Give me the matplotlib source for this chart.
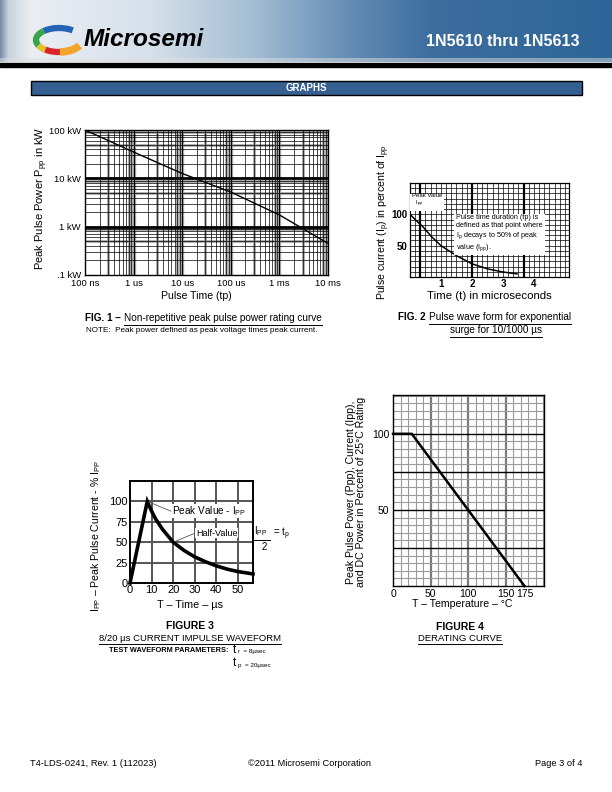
import numpy as np
import matplotlib.pyplot as plt
from matplotlib.patches import Rectangle, Arc

plt.rcParams['font.family'] = ['Liberation Sans', 'DejaVu Sans']
plt.rcParams['mathtext.fontset'] = 'custom'
plt.rcParams['mathtext.rm'] = 'Liberation Sans'
plt.rcParams['mathtext.it'] = 'Liberation Sans:italic'
plt.rcParams['mathtext.bf'] = 'Liberation Sans:bold'

# ---- data ----
# fig 1 : peak pulse power vs pulse time
f1_time = [1e-7, 1e-6, 1e-5, 1e-4, 1e-3, 1e-2]
f1_power = [100, 35, 12.6, 5.2, 1.75, 0.45]
f1_xticks = [1e-7, 1e-6, 1e-5, 1e-4, 1e-3, 1e-2]
f1_xlabels = ['100 ns', '1 us', '10 us', '100 us', '1 ms', '10 ms']
f1_yticks = [0.1, 1, 10, 100]
f1_ylabels = ['.1 kW', '1 kW', '10 kW', '100 kW']

# fig 2 : exponential pulse
f2_t = [0, 0.2, 0.42, 0.7, 1.0, 1.5, 2.0, 2.5, 3.0, 3.45]
f2_i = [100, 90, 80, 64, 50, 34, 21, 13, 8, 5]
f2_xticks = [1, 2, 3, 4]
f2_yticks = [50, 100]

# fig 3 : 8/20 us waveform
f3_t = [0, 8, 10, 12, 15, 20, 25, 30, 35, 40, 45, 50, 55, 57]
f3_i = [0, 100, 88, 78, 66, 50, 40, 32, 26, 21, 17, 14, 12, 11]
f3_xticks = [0, 10, 20, 30, 40, 50]
f3_yticks = [0, 25, 50, 75, 100]

# fig 4 : derating
f4_temp = [0, 25, 175]
f4_pct = [100, 100, 0]
f4_xticks = [0, 50, 100, 150, 175]
f4_yticks = [50, 100]

W, H = 612, 792
fig = plt.figure(figsize=(6.12, 7.92), dpi=100)
bg = fig.add_axes([0, 0, 1, 1])
bg.set_xlim(0, W)
bg.set_ylim(H, 0)
bg.axis('off')


def box(l, t, r, b):
    ax = fig.add_axes([l / W, 1 - b / H, (r - l) / W, (b - t) / H])
    ax.patch.set_visible(False)
    return ax


def uline(t, off=0.0):
    bb = t.get_window_extent(fig.canvas.get_renderer())
    y = H - bb.y0 + off
    bg.plot([bb.x0, bb.x1], [y, y], color='k', lw=0.7)


def caption(x, y, bold, rest, size):
    t1 = bg.text(x, y, bold, fontsize=size, fontweight='bold', va='baseline')
    bb = t1.get_window_extent(fig.canvas.get_renderer())
    t2 = bg.text(bb.x1 + 3, y, rest, fontsize=size, va='baseline')
    uline(t2, 1.5)


# ---- header ----
stops_x = [0, 8, 30, 150, 250, 350, 430, 612]
stops_c = [(120, 140, 165), (200, 210, 222), (234, 238, 243), (214, 224, 234),
           (165, 190, 212), (100, 140, 180), (60, 110, 158), (46, 101, 152)]
xs = np.arange(W)
grad = np.stack([np.interp(xs, stops_x, [c[k] for c in stops_c]) for k in range(3)], axis=-1) / 255
img = np.repeat(grad[None, :, :], 62, axis=0)
img[58:, :, :] = img[58:, :, :] * 0.5 + 0.5 * 0.88
bg.imshow(img, extent=[0, W, 62, 0], aspect='auto', zorder=0)
bg.add_patch(Rectangle((0, 63), W, 4, color='k', zorder=1))
bg.set_xlim(0, W)
bg.set_ylim(H, 0)

# logo swirl (screen angles converted for the flipped y axis)
for s1, s2, col, lw in [(35, 150, '#2365b4', 4.5), (150, 195, '#3ba44a', 4.5),
                        (195, 215, '#e6c22a', 4.5), (215, 275, '#d9262b', 4.5),
                        (275, 345, '#f3a52b', 5.5)]:
    bg.add_patch(Arc((59, 40), 46, 24, theta1=-s2, theta2=-s1, color=col, lw=lw, zorder=2))
bg.text(84, 40, 'Microsemi', fontsize=17.6, fontweight='bold', fontstyle='italic',
        va='center', ha='left', color='k', zorder=3)
bg.text(580, 41, '1N5610 thru 1N5613', fontsize=11.5, fontweight='bold',
        color='white', ha='right', va='center', zorder=3)

# GRAPHS bar
bg.add_patch(Rectangle((31, 81), 551, 14, facecolor='#365f91', edgecolor='k', lw=1))
bg.text(306, 88, 'GRAPHS', fontsize=7, fontweight='bold', color='white', ha='center', va='center')

# ---- FIG 1 ----
ax1 = box(85, 130, 328, 275)
ax1.set_xscale('log')
ax1.set_yscale('log')
ax1.set_xlim(1e-7, 1e-2)
ax1.set_ylim(0.1, 100)
for d in range(-7, -2):
    for m in range(2, 10):
        x = m * 10.0 ** d
        if m in (3, 8, 9):
            ax1.axvline(x, color='#a8a8a8', lw=2.0, zorder=0)
        ax1.axvline(x, color='k', lw=0.5, zorder=1)
    if d > -7:
        ax1.axvline(10.0 ** d, color='#a8a8a8', lw=2.4, zorder=0)
        ax1.axvline(10.0 ** d, color='k', lw=0.8, zorder=1)
for d in range(-1, 2):
    for m in range(2, 10):
        y = m * 10.0 ** d
        if m in (5, 9):
            ax1.axhline(y, color='#a8a8a8', lw=2.0, zorder=0)
        ax1.axhline(y, color='k', lw=0.5, zorder=1)
    if d > -1:
        ax1.axhline(10.0 ** d, color='k', lw=2.0, zorder=1)
ax1.plot(f1_time, f1_power, color='k', lw=1.0, zorder=3)
ax1.set_xticks(f1_xticks, f1_xlabels, fontsize=6.8)
ax1.set_yticks(f1_yticks, f1_ylabels, fontsize=6.8)
ax1.minorticks_off()
ax1.tick_params(length=0, pad=3)
for s in ax1.spines.values():
    s.set_linewidth(1.0)
bg.text(196, 296, 'Pulse Time (tp)', fontsize=7.6, ha='center', va='center')
bg.text(42, 198, 'Peak Pulse Power P$_{\\rm pp}$ in kW', fontsize=8.0, rotation=90,
        ha='center', va='center')
caption(85, 321, 'FIG. 1 \u2013', 'Non-repetitive peak pulse power rating curve', 7.2)
bg.text(202, 330, 'NOTE:  Peak power defined as peak voltage times peak current.',
        fontsize=5.9, ha='center', va='center')

# ---- FIG 2 ----
ax2 = box(410, 183, 569, 277)
ax2.set_xlim(0, 5.13)
ax2.set_ylim(0, 150)
for k in range(1, 31):
    x = k / 6
    if x < 5.13:
        ax2.axvline(x, color='k', lw=1.6 if k in (2, 12, 22) else 0.5, zorder=1)
for y in np.linspace(0, 150, 19)[1:-1]:
    ax2.axhline(y, color='k', lw=0.5, zorder=1)
ax2.plot(f2_t, f2_i, color='k', lw=1.1, zorder=3)
ax2.set_xticks(f2_xticks, [str(v) for v in f2_xticks], fontsize=7, fontweight='bold')
ax2.set_yticks(f2_yticks, [str(v) for v in f2_yticks], fontsize=7, fontweight='bold')
ax2.tick_params(length=0, pad=1.5)
for s in ax2.spines.values():
    s.set_linewidth(0.9)
ax2.text(0.06, 134, 'Peak Value\n  I$_{\\rm pp}$', fontsize=4.3, va='top', ha='left', zorder=4,
         bbox=dict(facecolor='white', edgecolor='none', pad=1.2))
ax2.text(1.48, 101, 'Pulse time duration (tp) is\ndefined as that point where\n'
         'I$_{\\rm p}$ decays to 50% of peak\nvalue (I$_{\\rm pp}$).', fontsize=5.2,
         va='top', ha='left', zorder=4, linespacing=1.2,
         bbox=dict(facecolor='white', edgecolor='none', pad=1.5))
bg.text(489, 296, 'Time (t) in microseconds', fontsize=8.2, ha='center', va='center')
bg.text(384, 222, 'Pulse current (I$_{\\rm p}$) in percent of I$_{\\rm pp}$', fontsize=7.6,
        rotation=90, ha='center', va='center')
caption(398, 320, 'FIG. 2', 'Pulse wave form for exponential', 7.2)
t = bg.text(496, 333, 'surge for 10/1000 \u00b5s', fontsize=7.2, ha='center', va='baseline')
uline(t, 1.5)

# ---- FIG 3 ----
ax3 = box(130, 481, 253, 583)
ax3.set_xlim(0, 57)
ax3.set_ylim(0, 125)
for x in f3_xticks[1:]:
    ax3.axvline(x, color='#555555', lw=1.4, zorder=1)
for y in f3_yticks[1:]:
    ax3.axhline(y, color='#555555', lw=1.4, zorder=1)
ax3.plot(f3_t, f3_i, color='k', lw=2.6, zorder=3, clip_on=False, solid_joinstyle='miter')
ax3.set_xticks(f3_xticks, [str(v) for v in f3_xticks], fontsize=8)
ax3.set_yticks(f3_yticks, [str(v) for v in f3_yticks], fontsize=8)
ax3.tick_params(length=0, pad=1.5)
for s in ax3.spines.values():
    s.set_linewidth(1.4)
ax3.plot([9, 19], [99, 88], color='#555555', lw=0.6, zorder=4, clip_on=False)
ax3.text(19.5, 88, 'Peak Value - I$_{\\rm PP}$', fontsize=7.2, va='center', ha='left', zorder=5,
         clip_on=False, bbox=dict(facecolor='white', edgecolor='none', pad=0.3))
ax3.plot([21, 30], [51, 61], color='#555555', lw=0.6, zorder=4, clip_on=False)
ax3.text(30.5, 61, 'Half-Value', fontsize=6.5, va='center', ha='left', zorder=5,
         bbox=dict(facecolor='white', edgecolor='none', pad=0.3))
bg.text(261, 531, 'I$_{\\rm PP}$', fontsize=7, ha='center', va='center')
bg.plot([252, 270], [540, 540], color='k', lw=0.7)
bg.text(264, 547, '2', fontsize=7, ha='center', va='center')
bg.text(273, 534, '= t$_{\\rm p}$', fontsize=7, ha='left', va='center')
bg.text(190, 605, 'T \u2013 Time \u2013 \u00b5s', fontsize=7.8, ha='center', va='center')
bg.text(96, 536, 'I$_{\\rm PP}$ \u2013 Peak Pulse Current - % I$_{\\rm PP}$', fontsize=7.6,
        rotation=90, ha='center', va='center')
bg.text(190, 626, 'FIGURE 3', fontsize=7.5, fontweight='bold', ha='center', va='center')
t = bg.text(190, 641, '8/20 \u00b5s CURRENT IMPULSE WAVEFORM', fontsize=6.8,
            ha='center', va='baseline')
uline(t, 1.3)
bg.text(109, 651, 'TEST WAVEFORM PARAMETERS:', fontsize=5.3, fontweight='bold', va='center')
bg.text(233, 650, 't', fontsize=8.5, va='center')
bg.text(238, 652, 'r  = 8\u00b5sec', fontsize=4.5, va='center')
bg.text(233, 663, 't', fontsize=8.5, va='center')
bg.text(238, 665, 'p  = 20\u00b5sec', fontsize=4.5, va='center')

# ---- FIG 4 ----
ax4 = box(393, 395, 544, 586)
ax4.set_xlim(0, 201)
ax4.set_ylim(0, 125.5)
for x in range(10, 201, 10):
    if x in (50, 100, 150):
        ax4.axvline(x, color='#7a7a7a', lw=1.6, zorder=1)
    else:
        ax4.axvline(x, color='#9a9a9a', lw=0.8, zorder=1)
for y in range(5, 126, 5):
    if y in (25, 50, 75, 100):
        ax4.axhline(y, color='k', lw=1.0, zorder=2)
    else:
        ax4.axhline(y, color='#9a9a9a', lw=0.8, zorder=1)
ax4.plot(f4_temp, f4_pct, color='k', lw=1.8, zorder=3, clip_on=False)
ax4.set_xticks(f4_xticks, [str(v) for v in f4_xticks], fontsize=7.5)
ax4.set_yticks(f4_yticks, [str(v) for v in f4_yticks], fontsize=7.5)
ax4.tick_params(length=0, pad=2.5)
for s in ax4.spines.values():
    s.set_linewidth(1.0)
bg.text(462, 604, 'T \u2013 Temperature \u2013 \u00b0C', fontsize=7.6, ha='center', va='center')
bg.text(356, 492, 'Peak Pulse Power (Ppp), Current (Ipp),\nand DC Power in Percent of 25\u00b0C Rating',
        fontsize=7.6, rotation=90, ha='center', va='center', linespacing=1.05)
bg.text(460, 627, 'FIGURE 4', fontsize=7.5, fontweight='bold', ha='center', va='center')
t = bg.text(460, 641, 'DERATING CURVE', fontsize=6.8, ha='center', va='baseline')
uline(t, 1.3)

# ---- footer ----
bg.text(30, 764, 'T4-LDS-0241, Rev. 1 (112023)', fontsize=6.7, va='center')
bg.text(310, 764, '\u00a92011 Microsemi Corporation', fontsize=6.7, ha='center', va='center')
bg.text(582, 764, 'Page 3 of 4', fontsize=6.7, ha='right', va='center')

fig.savefig('out.png', dpi=100)
